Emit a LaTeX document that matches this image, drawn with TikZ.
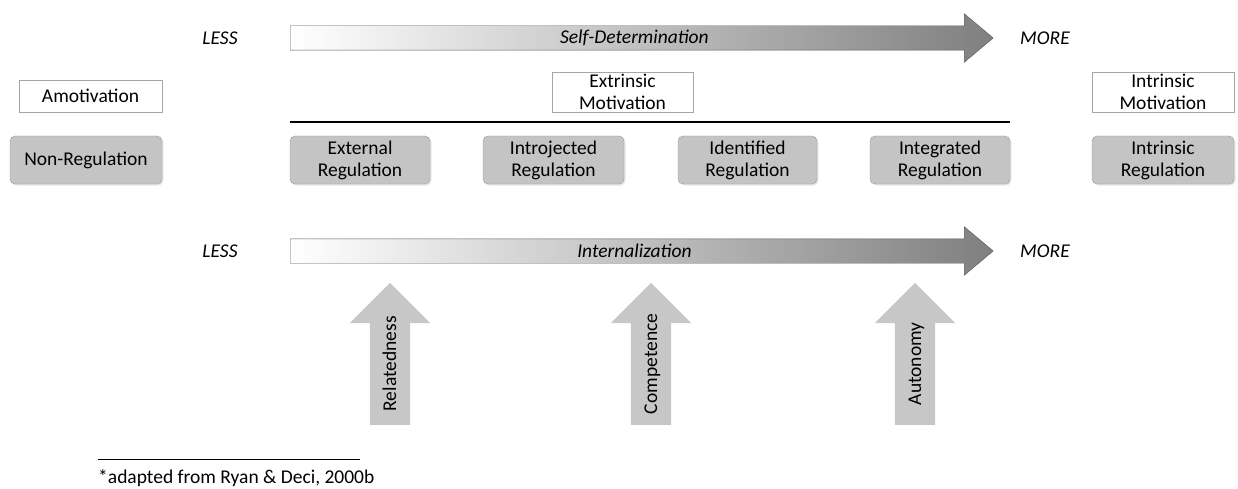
\documentclass[tikz,border=0pt]{standalone}
\usepackage{fontspec}
\setmainfont{Carlito}
\usetikzlibrary{positioning, shapes.arrows, shadows}

\begin{document}
\begin{tikzpicture}[x=1pt, y=-1pt,
		font=\fontsize{19.5}{22}\selectfont,
		myline/.style={draw=black!35, thin},
		motbox/.style={myline, rectangle, align=center, inner sep=0pt},
		regbox/.style={draw=black!40, fill=black!23, rounded corners=5pt, align=center, minimum height=48pt, inner sep=0pt,
			drop shadow={opacity=0.2, shadow xshift=1.5pt, shadow yshift=-1.5pt}},
		sdarrow/.style={single arrow, draw=black!65, left color=white, right color=black!50, single arrow tip angle=80,
			single arrow head extend=12pt, minimum height=703pt, text height=14pt, text depth=2pt, inner ysep=4pt,
			font=\fontsize{19.5}{22}\selectfont\itshape, anchor=tail},
		needarrow/.style={single arrow, fill=black!22, rotate=90, single arrow head extend=20pt, minimum height=142pt,
			text height=14pt, text depth=2pt, inner ysep=12pt, anchor=tail},
		lessmore/.style={font=\fontsize{19.5}{22}\selectfont\itshape}]
		
		\path[use as bounding box] (0,0) rectangle (1238,489);
		
		% self-determination scale
		\node[lessmore] (less1) at (220,38) {LESS};
		\node[sdarrow] (selfdet) at (290,38) {Self-Determination};
		\node[lessmore] (more1) at (1045,38) {MORE};
		
		% types of motivation
		\node[motbox, minimum width=143pt, minimum height=32pt] (amot) at (90.5,96) {Amotivation};
		\node[motbox, minimum width=141pt, minimum height=40pt] (extmot) at (622.5,92) {Extrinsic\\Motivation};
		\node[motbox, minimum width=142pt, minimum height=40pt] (intmot) at (1163,92) {Intrinsic\\Motivation};
		
		% types of regulation
		\node[regbox, minimum width=152pt] (nonreg) at (86,160) {Non-Regulation};
		\node[regbox, minimum width=140pt] (extreg) at (360,160) {External\\Regulation};
		\node[regbox, minimum width=141pt] (introreg) at (553.5,160) {Introjected\\Regulation};
		\node[regbox, minimum width=139pt] (identreg) at (747.5,160) {Identified\\Regulation};
		\node[regbox, minimum width=140pt] (integreg) at (940,160) {Integrated\\Regulation};
		\node[regbox, minimum width=142pt] (intreg) at (1163,160) {Intrinsic\\Regulation};
		
		\draw[line width=2.5pt] ([yshift=14pt]extreg.north west) -- ([yshift=14pt]integreg.north east);
		
		% internalization scale
		\node[lessmore] (less2) at (220,251) {LESS};
		\node[sdarrow] (internal) at (290,251) {Internalization};
		\node[lessmore] (more2) at (1045,251) {MORE};
		
		% basic needs
		\node[needarrow] (related) at (390,425) {Relatedness};
		\node[needarrow] (compet) at (651,425) {Competence};
		\node[needarrow] (autonom) at (915,425) {Autonomy};
		
		% footnote
		\draw[thin] (98,459) -- (360,459);
		\node[anchor=west, inner sep=0pt] (source) at (98,478) {*adapted from Ryan \& Deci, 2000b};
	\end{tikzpicture}
\end{document}
